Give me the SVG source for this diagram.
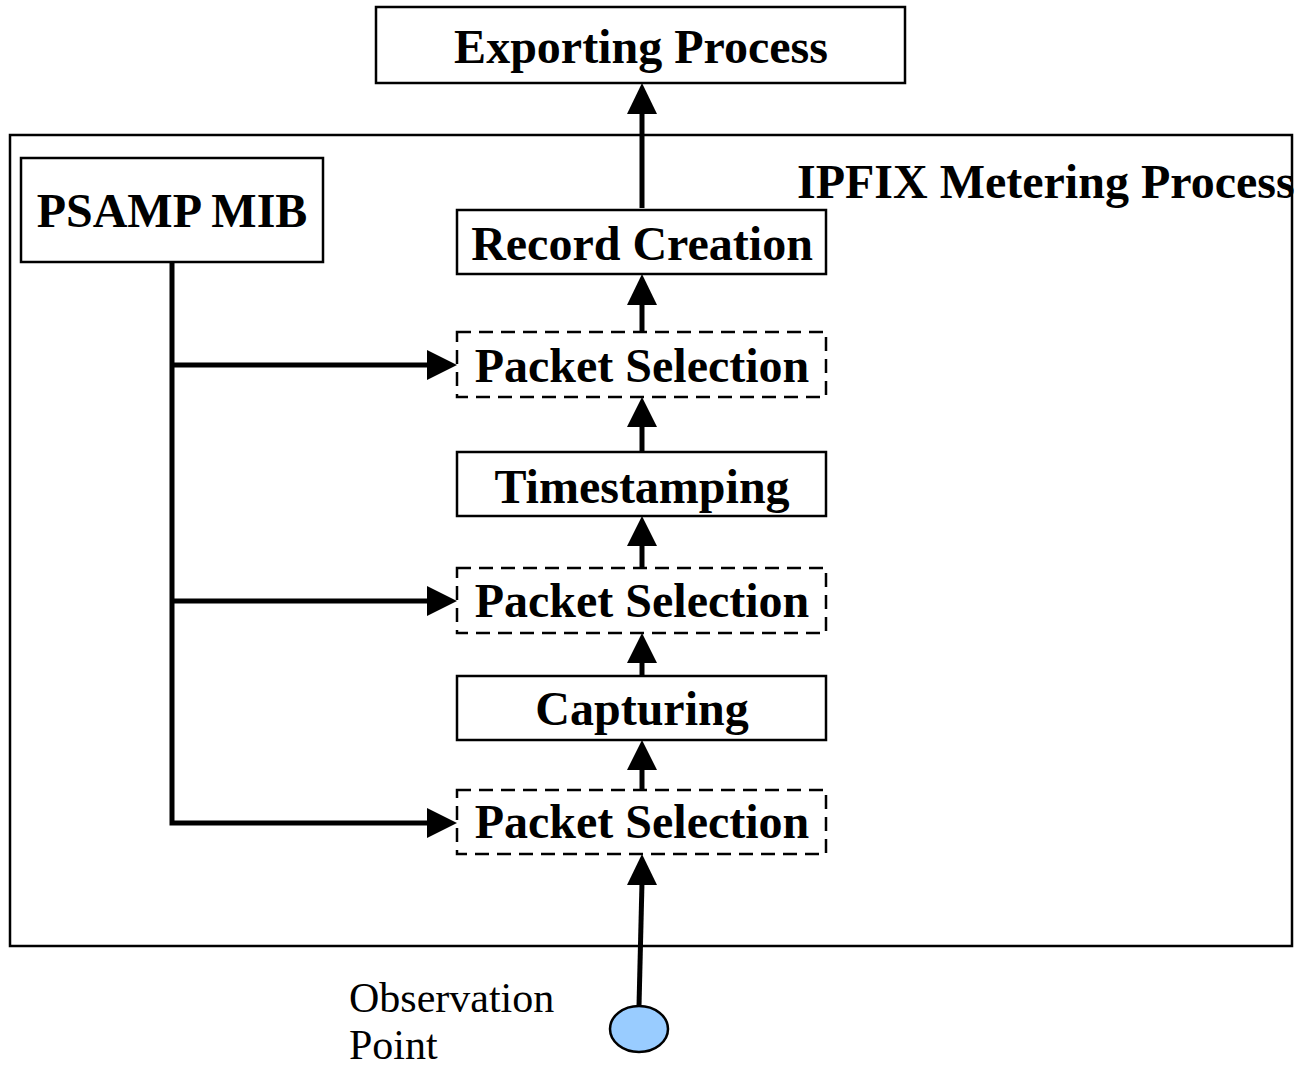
<svg xmlns="http://www.w3.org/2000/svg" width="1297" height="1068" viewBox="0 0 1297 1068">
<style>
.box{fill:#fff;stroke:#000;stroke-width:2.5}
.dash{fill:#fff;stroke:#000;stroke-width:2.5;stroke-dasharray:14 8}
.t{font-family:"Liberation Serif","Times New Roman",serif;font-weight:bold;font-size:48px;fill:#000}
.r{font-family:"Liberation Serif","Times New Roman",serif;font-size:42px;fill:#000}
.ln{stroke:#000;stroke-width:5;fill:none}
.ah{fill:#000}
</style>
<rect width="1297" height="1068" fill="#fff"/>
<g id="metering">
<rect x="10" y="135" width="1282" height="811" fill="none" stroke="#000" stroke-width="2.5"/>
<text class="t" x="797" y="198">IPFIX Metering Process</text>
</g>
<g id="exporting"><rect class="box" x="376" y="7" width="529" height="76"/><text class="t" x="641" y="63" text-anchor="middle">Exporting Process</text></g>
<g id="psamp"><rect class="box" x="21" y="158" width="302" height="104"/><text class="t" x="172" y="227" text-anchor="middle">PSAMP MIB</text></g>
<g id="record"><rect class="box" x="457" y="210" width="369" height="64"/><text class="t" x="642" y="260" text-anchor="middle">Record Creation</text></g>
<g id="ps1"><rect class="dash" x="457" y="332" width="369" height="65"/><text class="t" x="642" y="382" text-anchor="middle">Packet Selection</text></g>
<g id="timestamping"><rect class="box" x="457" y="452" width="369" height="64"/><text class="t" x="642" y="503" text-anchor="middle">Timestamping</text></g>
<g id="ps2"><rect class="dash" x="457" y="568" width="369" height="65"/><text class="t" x="642" y="617" text-anchor="middle">Packet Selection</text></g>
<g id="capturing"><rect class="box" x="457" y="676" width="369" height="64"/><text class="t" x="642" y="725" text-anchor="middle">Capturing</text></g>
<g id="ps3"><rect class="dash" x="457" y="790" width="369" height="64"/><text class="t" x="642" y="838" text-anchor="middle">Packet Selection</text></g>
<g id="observation">
<ellipse cx="639" cy="1029" rx="29" ry="23" fill="#99ccff" stroke="#000" stroke-width="2.5"/>
<text class="r" x="349" y="1012">Observation</text>
<text class="r" x="349" y="1059">Point</text>
</g>
<g id="connectors">
<line class="ln" x1="642" y1="208" x2="642" y2="112"/><polygon class="ah" points="642,83 627,114 657,114"/>
<line class="ln" x1="642" y1="332" x2="642" y2="302"/><polygon class="ah" points="642,274 627,305 657,305"/>
<line class="ln" x1="642" y1="452" x2="642" y2="424"/><polygon class="ah" points="642,397 627,427 657,427"/>
<line class="ln" x1="642" y1="568" x2="642" y2="543"/><polygon class="ah" points="642,516 627,546 657,546"/>
<line class="ln" x1="642" y1="676" x2="642" y2="660"/><polygon class="ah" points="642,633 627,663 657,663"/>
<line class="ln" x1="642" y1="790" x2="642" y2="767"/><polygon class="ah" points="642,740 627,770 657,770"/>
<line class="ln" x1="639" y1="1006" x2="642" y2="882"/><polygon class="ah" points="642,854 627,885 657,885"/>
<polyline class="ln" points="172,262 172,823 430,823"/>
<line class="ln" x1="172" y1="365" x2="430" y2="365"/>
<line class="ln" x1="172" y1="601" x2="430" y2="601"/>
<polygon class="ah" points="457,365 427,350 427,380"/>
<polygon class="ah" points="457,601 427,586 427,616"/>
<polygon class="ah" points="457,823 427,808 427,838"/>
</g>
</svg>
